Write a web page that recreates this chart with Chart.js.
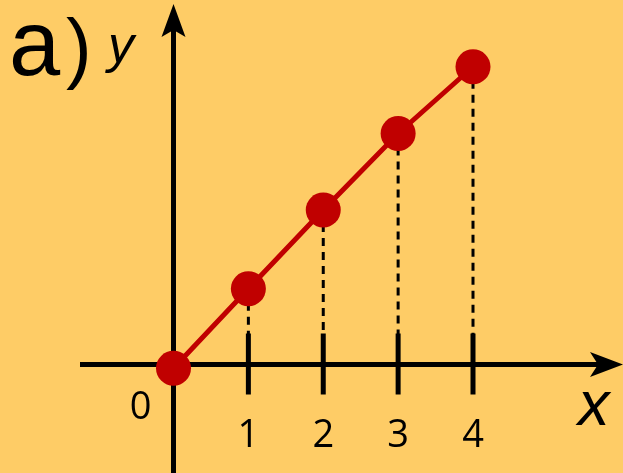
<!DOCTYPE html>
<html>
<head>
<meta charset="utf-8">
<script src="https://cdn.jsdelivr.net/npm/chart.js@4.4.1/dist/chart.umd.min.js"></script>
<style>
  html, body { margin: 0; padding: 0; background: #FECC66; }
  canvas { display: block; }
</style>
</head>
<body>
<canvas id="chart" width="623" height="473"></canvas>
<script>
/* ===========================
   DATA
=========================== */
const xValues    = [0, 1, 2, 3, 4];
const yValues    = [-0.05, 1.01, 2.06, 3.08, 3.97];
const tickValues = [1, 2, 3, 4];
const tickLabels = ["1", "2", "3", "4"];
const originLabel = "0";
const xAxisTitle = "x";
const yAxisTitle = "y";
const panelLabel = "a";

const RED = "#C00000";

/* ===========================
   AXES PLUGIN
=========================== */
function arrowHead(ctx, tipX, tipY, dir) {
  // dir: "up" or "right"
  ctx.beginPath();
  if (dir === "up") {
    ctx.moveTo(tipX, tipY);
    ctx.lineTo(tipX + 12, tipY + 33);
    ctx.lineTo(tipX, tipY + 26);
    ctx.lineTo(tipX - 12, tipY + 33);
  } else {
    ctx.moveTo(tipX, tipY);
    ctx.lineTo(tipX - 33, tipY - 12.5);
    ctx.lineTo(tipX - 25, tipY);
    ctx.lineTo(tipX - 33, tipY + 12.5);
  }
  ctx.closePath();
  ctx.fill();
}

const axesPlugin = {
  id: "axesPlugin",
  beforeDatasetsDraw(chart) {
    const { ctx, scales: { x, y } } = chart;
    const ox = x.getPixelForValue(0);
    const oy = y.getPixelForValue(0);
    ctx.save();

    // dashed drop lines
    ctx.strokeStyle = "#000";
    ctx.lineWidth = 3;
    ctx.setLineDash([8, 6]);
    xValues.forEach((v, i) => {
      if (v === 0) return;
      const px = x.getPixelForValue(v);
      ctx.beginPath();
      ctx.moveTo(px, y.getPixelForValue(yValues[i]));
      ctx.lineTo(px, oy);
      ctx.stroke();
    });
    ctx.setLineDash([]);

    // axis lines
    ctx.lineWidth = 5;
    ctx.beginPath();
    ctx.moveTo(80, oy);
    ctx.lineTo(605, oy);
    ctx.moveTo(ox, 25);
    ctx.lineTo(ox, chart.height);
    ctx.stroke();

    ctx.fillStyle = "#000";
    arrowHead(ctx, 623, oy, "right");
    arrowHead(ctx, ox, 4, "up");

    // tick marks
    ctx.lineWidth = 5;
    tickValues.forEach(v => {
      const px = x.getPixelForValue(v);
      ctx.beginPath();
      ctx.moveTo(px, oy - 31);
      ctx.lineTo(px, oy + 30);
      ctx.stroke();
    });

    // tick labels
    ctx.font = "38px 'Open Sans'";
    ctx.textAlign = "center";
    ctx.textBaseline = "alphabetic";
    tickValues.forEach((v, i) => {
      ctx.fillText(tickLabels[i], x.getPixelForValue(v), oy + 82);
    });
    ctx.fillText(originLabel, ox - 33, oy + 54);

    // axis titles
    ctx.textAlign = "left";
    ctx.font = "italic 63px 'Liberation Sans'";
    ctx.fillText(xAxisTitle, 578, oy + 60);
    ctx.font = "italic 52px 'Liberation Sans'";
    ctx.fillText(yAxisTitle, 108, 62);

    // panel label
    ctx.font = "92px 'Liberation Sans'";
    ctx.fillText(panelLabel, 9, 75);
    ctx.font = "77px 'Liberation Sans'";
    ctx.fillText(")", 66, 74);

    ctx.restore();
  }
};

/* ===========================
   CHART
=========================== */
const unitX = 74.875, originX = 173.5;
const unitY = 75, originY = 364.5;
const W = 623, H = 473;

new Chart(document.getElementById("chart"), {
  type: "scatter",
  data: {
    datasets: [{
      data: xValues.map((v, i) => ({ x: v, y: yValues[i] })),
      showLine: true,
      borderColor: RED,
      borderWidth: 5,
      backgroundColor: RED,
      pointBackgroundColor: RED,
      pointBorderWidth: 0,
      pointRadius: 17.5,
      clip: false
    }]
  },
  options: {
    responsive: false,
    animation: false,
    layout: { padding: 0, autoPadding: false },
    plugins: { legend: { display: false }, tooltip: { enabled: false } },
    scales: {
      x: { type: "linear", display: false, min: -originX / unitX, max: (W - originX) / unitX },
      y: { type: "linear", display: false, min: -(H - originY) / unitY, max: originY / unitY }
    }
  },
  plugins: [axesPlugin]
});
</script>
</body>
</html>
